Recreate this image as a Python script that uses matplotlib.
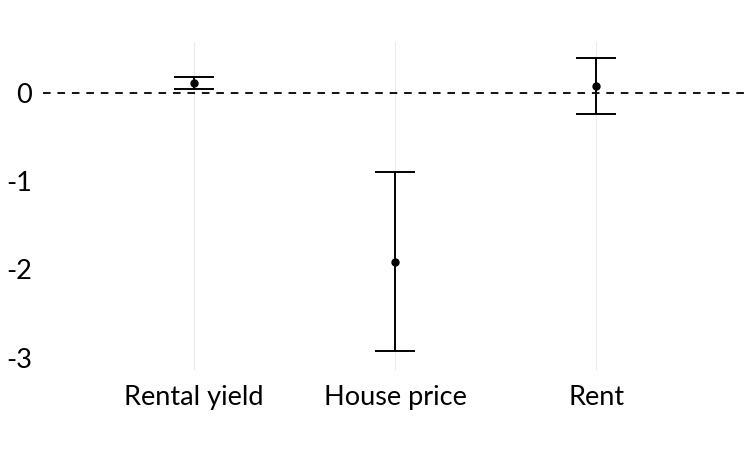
import numpy as np
import matplotlib.pyplot as plt

categories = ["Rental yield", "House price", "Rent"]
estimates = [0.11, -1.92, 0.08]
lower = [0.045, -2.93, -0.24]
upper = [0.18, -0.90, 0.40]
yticks = [0, -1, -2, -3]

plt.rcParams['font.family'] = ['Lato', 'DejaVu Sans']

fig = plt.figure(figsize=(7.56, 4.5), dpi=100)
ax = fig.add_axes([43 / 756, 1 - 370 / 450, 702 / 756, 328 / 450])

x = np.arange(1, len(categories) + 1)
est = np.array(estimates)
err = [est - np.array(lower), np.array(upper) - est]

# zero reference line
ax.axhline(0, color='black', linestyle=(0, (4.2, 3.8)), linewidth=1.3, zorder=1)
ax.errorbar(x, est, yerr=err, fmt='o', color='black', markersize=5,
            elinewidth=1.4, capsize=14.4, capthick=1.4, zorder=3)

ax.set_xlim(0.25, 3.74)
ax.set_ylim(-3.14, 0.58)
ax.set_xticks(x)
ax.set_xticklabels(categories)
ax.set_yticks(yticks)
ax.set_yticklabels([str(t) for t in yticks])
ax.grid(axis='x', color='#ebebeb', linewidth=0.8)
ax.grid(axis='y', visible=False)
ax.set_axisbelow(True)
for s in ax.spines.values():
    s.set_visible(False)
ax.tick_params(length=0, labelsize=19.5, pad=11)
ax.tick_params(axis='y', pad=8)

fig.savefig("out.png", dpi=100)
